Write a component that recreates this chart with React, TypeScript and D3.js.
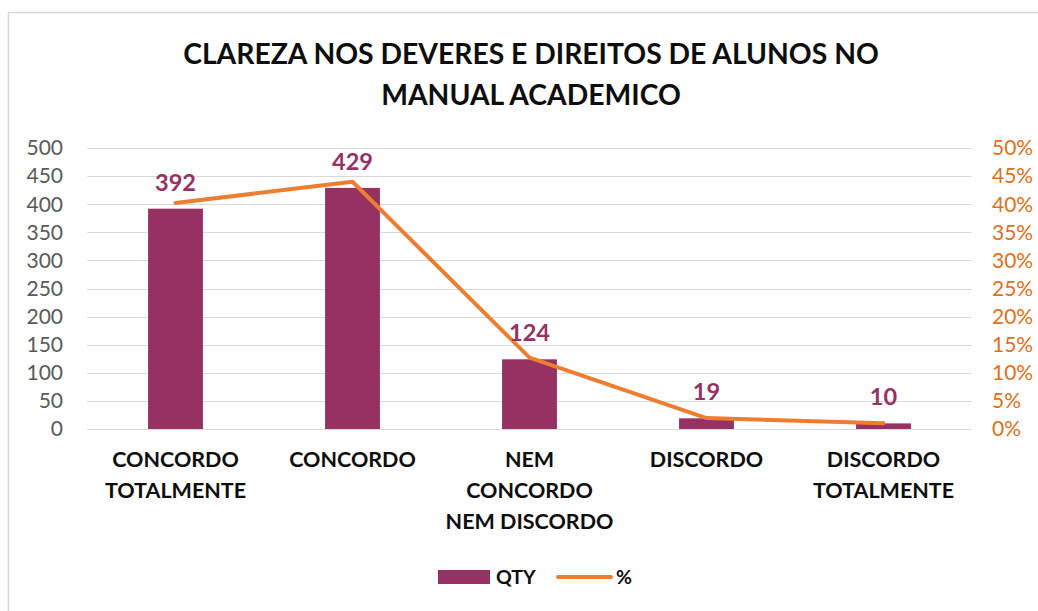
import React, { useEffect, useRef } from 'react';
import * as d3 from 'd3';

const categories = [
  ['CONCORDO', 'TOTALMENTE'],
  ['CONCORDO'],
  ['NEM', 'CONCORDO', 'NEM DISCORDO'],
  ['DISCORDO'],
  ['DISCORDO', 'TOTALMENTE'],
];
const qty = [392, 429, 124, 19, 10];
const pct = [0.402, 0.44, 0.127, 0.0195, 0.0103];
const leftTicks = [0, 50, 100, 150, 200, 250, 300, 350, 400, 450, 500];
const rightTicks = [0, 0.05, 0.1, 0.15, 0.2, 0.25, 0.3, 0.35, 0.4, 0.45, 0.5];
const titleLines = ['CLAREZA NOS DEVERES E DIREITOS DE ALUNOS NO', 'MANUAL ACADEMICO'];

const W = 1038;
const H = 611;
const FONT = 'Lato, "Open Sans", sans-serif';
const BAR = '#963262';
const LINE = '#ED7D31';

const App = () => {
  const svgRef = useRef<SVGSVGElement>(null);

  useEffect(() => {
    const svg = d3.select(svgRef.current);
    svg.selectAll('*').remove();

    const left = 87, right = 972, top = 148, bottom = 429;

    svg.append('rect')
      .attr('x', 8.5).attr('y', 12.5)
      .attr('width', W + 20).attr('height', H + 20)
      .attr('fill', 'white').attr('stroke', '#d9d9d9').attr('stroke-width', 1.5);

    const x = d3.scaleBand<number>()
      .domain(d3.range(qty.length))
      .range([left, right])
      .paddingInner(0.69).paddingOuter(0.345);
    const y = d3.scaleLinear().domain([0, 500]).range([bottom, top]);
    const y2 = d3.scaleLinear().domain([0, 0.5]).range([bottom, top]);

    // title
    svg.append('text')
      .attr('text-anchor', 'middle')
      .attr('font-family', FONT).attr('font-weight', 700).attr('font-size', 28.3)
      .attr('fill', '#0d0d0d')
      .selectAll('tspan')
      .data(titleLines)
      .join('tspan')
      .attr('x', 531)
      .attr('y', (d, i) => 64 + i * 41)
      .text(d => d);

    // gridlines
    svg.append('g')
      .selectAll('line')
      .data(leftTicks)
      .join('line')
      .attr('x1', left).attr('x2', right)
      .attr('y1', d => Math.round(y(d)) + 0.5).attr('y2', d => Math.round(y(d)) + 0.5)
      .attr('stroke', '#d9d9d9').attr('stroke-width', 1);

    // left axis
    svg.append('g')
      .selectAll('text')
      .data(leftTicks)
      .join('text')
      .attr('x', 63).attr('y', d => y(d))
      .attr('dy', '0.35em')
      .attr('text-anchor', 'end')
      .attr('font-family', FONT).attr('font-size', 21)
      .attr('fill', '#595959')
      .text(d => d);

    // right axis
    svg.append('g')
      .selectAll('text')
      .data(rightTicks)
      .join('text')
      .attr('x', 992).attr('y', d => y2(d))
      .attr('dy', '0.35em')
      .attr('font-family', FONT).attr('font-size', 21)
      .attr('fill', '#E07020')
      .text(d => d3.format('.0%')(d));

    // bars
    svg.append('g')
      .selectAll('rect')
      .data(qty)
      .join('rect')
      .attr('x', (d, i) => x(i)!)
      .attr('y', d => y(d))
      .attr('width', x.bandwidth())
      .attr('height', d => bottom - y(d))
      .attr('fill', BAR);

    // line
    const line = d3.line<number>()
      .x((d, i) => x(i)! + x.bandwidth() / 2)
      .y(d => y2(d));
    svg.append('path')
      .datum(pct)
      .attr('d', line)
      .attr('fill', 'none')
      .attr('stroke', LINE).attr('stroke-width', 4)
      .attr('stroke-linejoin', 'round').attr('stroke-linecap', 'round');

    // data labels
    svg.append('g')
      .selectAll('text')
      .data(qty)
      .join('text')
      .attr('x', (d, i) => x(i)! + x.bandwidth() / 2)
      .attr('y', d => y(d) - 18)
      .attr('text-anchor', 'middle')
      .attr('font-family', FONT).attr('font-weight', 700).attr('font-size', 23.5)
      .attr('fill', '#953163')
      .text(d => d);

    // category labels
    const cat = svg.append('g')
      .selectAll('text')
      .data(categories)
      .join('text')
      .attr('text-anchor', 'middle')
      .attr('font-family', FONT).attr('font-weight', 700).attr('font-size', 21.5)
      .attr('fill', '#0d0d0d');
    cat.selectAll('tspan')
      .data((d, i) => d.map(t => ({ t, i })))
      .join('tspan')
      .attr('x', d => x(d.i)! + x.bandwidth() / 2)
      .attr('y', (d, j) => 467 + j * 31)
      .text(d => d.t);

    // legend
    const lg = svg.append('g');
    lg.append('rect')
      .attr('x', 438).attr('y', 570).attr('width', 52).attr('height', 14)
      .attr('fill', BAR);
    lg.append('text')
      .attr('x', 496).attr('y', 584)
      .attr('font-family', FONT).attr('font-weight', 700).attr('font-size', 19.5)
      .attr('fill', '#0d0d0d')
      .text('QTY');
    lg.append('line')
      .attr('x1', 558).attr('x2', 611).attr('y1', 577).attr('y2', 577)
      .attr('stroke', LINE).attr('stroke-width', 4).attr('stroke-linecap', 'round');
    lg.append('text')
      .attr('x', 616).attr('y', 584)
      .attr('font-family', FONT).attr('font-weight', 700).attr('font-size', 19.5)
      .attr('fill', '#0d0d0d')
      .text('%');
  }, []);

  return (
    <div style={{ position: 'absolute', left: 0, top: 0 }}>
      <svg ref={svgRef} width={W} height={H} style={{ display: 'block' }} />
    </div>
  );
};

export default App;
